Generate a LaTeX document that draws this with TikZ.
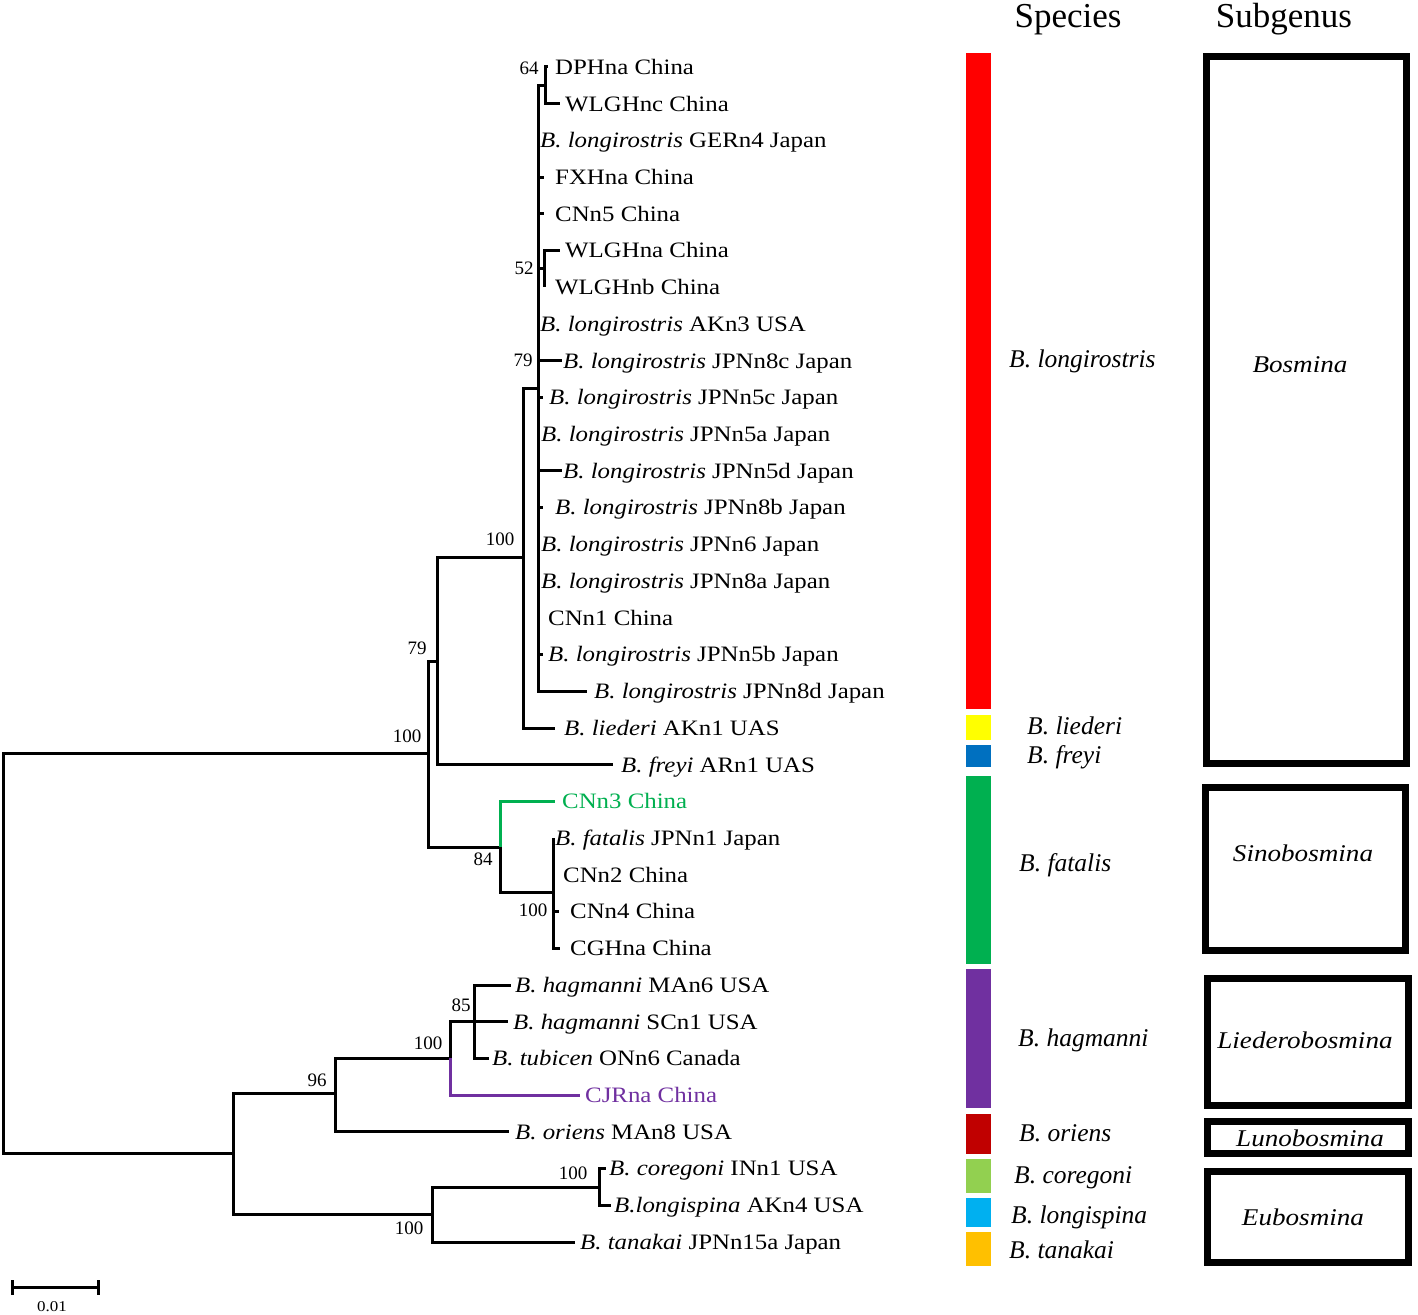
\documentclass[tikz,border=0pt]{standalone}
\usepackage{fontspec}
\setmainfont{Liberation Serif}
\newfontfamily\tf{Liberation Serif}[FakeStretch=1.13]
\definecolor{cRed}{HTML}{FF0000}
\definecolor{cYel}{HTML}{FFFF00}
\definecolor{cBlu}{HTML}{0070C0}
\definecolor{cGrn}{HTML}{00B050}
\definecolor{cPur}{HTML}{7030A0}
\definecolor{cDrd}{HTML}{C00000}
\definecolor{cLgr}{HTML}{92D050}
\definecolor{cCya}{HTML}{00B0F0}
\definecolor{cOra}{HTML}{FFC000}
\newcommand\mkleaf[5]{%
  \coordinate (#1e) at ({#3},{#2});
  \node[leaf] (#1) at ({#4},{#2+7.3}) {#5};}
\begin{document}
\begin{tikzpicture}[x=1pt,y=-1pt,
  br/.style={line width=3pt},
  leaf/.style={anchor=base west,inner sep=0pt,font=\tf\fontsize{22}{26}\selectfont},
  boot/.style={anchor=center,inner sep=0pt,font=\fontsize{19}{22}\selectfont},
  splab/.style={anchor=base west,inner sep=0pt,font=\fontsize{25.5}{30}\selectfont\itshape},
  sglab/.style={anchor=base,inner sep=0pt,font=\tf\fontsize{24}{28}\selectfont\itshape},
  sgbox/.style={line width=7.4pt},
  head/.style={anchor=base,inner sep=0pt,font=\fontsize{35}{40}\selectfont}]
\useasboundingbox (0,0) rectangle (1418,1314);
\fill[white] (0,0) rectangle (1418,1314);

% internal nodes
\coordinate (root) at (3,952);
\coordinate (nA) at (428,753);
\coordinate (nB) at (437,661);
\coordinate (nC) at (523,557);
\coordinate (nD) at (538,388);
\coordinate (n64) at (545,85);
\coordinate (n52) at (544,268);
\coordinate (nF) at (500,847);
\coordinate (nG) at (553,892);
\coordinate (nH) at (233,1153);
\coordinate (nI) at (335,1093);
\coordinate (nJ) at (450,1058);
\coordinate (nK) at (474,1021);
\coordinate (nL) at (432,1214);
\coordinate (nM) at (599,1187);

% leaves
\mkleaf{l1}{67}{548}{555}{DPHna China}
\mkleaf{l2}{103.7}{560}{565}{WLGHnc China}
\mkleaf{l3}{140.4}{538}{540}{\textit{B. longirostris} GERn4 Japan}
\mkleaf{l4}{177.2}{544}{555}{FXHna China}
\mkleaf{l5}{213.9}{544}{555}{CNn5 China}
\mkleaf{l6}{250.6}{560}{565}{WLGHna China}
\mkleaf{l7}{287.3}{544}{555}{WLGHnb China}
\mkleaf{l8}{324}{538}{540}{\textit{B. longirostris} AKn3 USA}
\mkleaf{l9}{360.8}{562}{563}{\textit{B. longirostris} JPNn8c Japan}
\mkleaf{l10}{397.5}{543}{549}{\textit{B. longirostris} JPNn5c Japan}
\mkleaf{l11}{434.2}{538}{541}{\textit{B. longirostris} JPNn5a Japan}
\mkleaf{l12}{470.9}{562}{563}{\textit{B. longirostris} JPNn5d Japan}
\mkleaf{l13}{507.6}{543}{555}{\textit{B. longirostris} JPNn8b Japan}
\mkleaf{l14}{544.4}{538}{541}{\textit{B. longirostris} JPNn6 Japan}
\mkleaf{l15}{581.1}{538}{541}{\textit{B. longirostris} JPNn8a Japan}
\mkleaf{l16}{617.8}{538}{548}{CNn1 China}
\mkleaf{l17}{654.5}{543}{548}{\textit{B. longirostris} JPNn5b Japan}
\mkleaf{l18}{691.2}{587}{594}{\textit{B. longirostris} JPNn8d Japan}
\mkleaf{l19}{728}{555}{564}{\textit{B. liederi} AKn1 UAS}
\mkleaf{l20}{764.7}{613}{621}{\textit{B. freyi} ARn1 UAS}
\mkleaf{l21}{801.4}{555}{562}{\textcolor{cGrn}{CNn3 China}}
\mkleaf{l22}{838.1}{553}{555}{\textit{B. fatalis} JPNn1 Japan}
\mkleaf{l23}{874.8}{553}{563}{CNn2 China}
\mkleaf{l24}{911.6}{559}{570}{CNn4 China}
\mkleaf{l25}{948.3}{560}{570}{CGHna China}
\mkleaf{l26}{985}{511}{515}{\textit{B. hagmanni} MAn6 USA}
\mkleaf{l27}{1021.7}{508}{513}{\textit{B. hagmanni} SCn1 USA}
\mkleaf{l28}{1058.4}{489}{492}{\textit{B. tubicen} ONn6 Canada}
\mkleaf{l29}{1095.2}{580}{585}{\textcolor{cPur}{CJRna China}}
\mkleaf{l30}{1131.9}{509}{515}{\textit{B. oriens} MAn8 USA}
\mkleaf{l31}{1168.6}{606}{609}{\textit{B. coregoni} INn1 USA}
\mkleaf{l32}{1205.3}{611}{614}{\textit{B.longispina} AKn4 USA}
\mkleaf{l33}{1242}{575}{580}{\textit{B. tanakai} JPNn15a Japan}

% branches
\draw[br] (root) |- (nA);
\draw[br] (root) |- (nH);
\draw[br] (nA) |- (nB);
\draw[br] (nA) |- (nF);
\draw[br] (nB) |- (nC);
\draw[br] (nB) |- (l20e);
\draw[br] (nC) |- (nD);
\draw[br] (nC) |- (l19e);
\draw[br] (nD) |- (n64);
\draw[br] (nD) |- (n52);
\foreach \k in {3,4,5,8,9,10,11,12,13,14,15,16,17,18} {\draw[br] (nD) |- (l\k e);}
\draw[br] (n64) |- (l1e);
\draw[br] (n64) |- (l2e);
\draw[br] (n52) |- (l6e);
\draw[br] (n52) |- (l7e);
\draw[br,cGrn] (nF) |- (l21e);
\draw[br] (nF) |- (nG);
\foreach \k in {22,23,24,25} {\draw[br] (nG) |- (l\k e);}
\draw[br] (nH) |- (nI);
\draw[br] (nH) |- (nL);
\draw[br] (nI) |- (nJ);
\draw[br] (nI) |- (l30e);
\draw[br] (nJ) |- (nK);
\draw[br,cPur] (nJ) |- (l29e);
\foreach \k in {26,27,28} {\draw[br] (nK) |- (l\k e);}
\draw[br] (nL) |- (nM);
\draw[br] (nL) |- (l33e);
\draw[br] (nM) |- (l31e);
\draw[br] (nM) |- (l32e);

% bootstrap values
\node[boot] (b64) at (529,68) {64};
\node[boot] (b52) at (524,268) {52};
\node[boot] (b79a) at (523,360) {79};
\node[boot] (b100a) at (500,539) {100};
\node[boot] (b79b) at (417,648) {79};
\node[boot] (b100b) at (407,736) {100};
\node[boot] (b84) at (483,859) {84};
\node[boot] (b100c) at (533,910) {100};
\node[boot] (b85) at (461,1005) {85};
\node[boot] (b100d) at (428,1043) {100};
\node[boot] (b96) at (317,1080) {96};
\node[boot] (b100e) at (573,1173) {100};
\node[boot] (b100f) at (409,1228) {100};

% scale bar
\coordinate (sbA) at (12,1287);
\coordinate (sbB) at (98,1287);
\draw[line width=3pt] (sbA) -- (sbB);
\draw[line width=3pt] ([yshift=7pt]sbA) -- ([yshift=-8pt]sbA);
\draw[line width=3pt] ([yshift=7pt]sbB) -- ([yshift=-8pt]sbB);
\node[anchor=center,inner sep=0pt,font=\tf\fontsize{15}{18}\selectfont] (sbl) at (52,1307) {0.01};

% headers
\node[head] (hsp) at (1068,28) {Species};
\node[head] (hsg) at (1284,28) {Subgenus};

% species bars
\fill[cRed] (966,53) rectangle (991,709);
\fill[cYel] (966,715) rectangle (991,740);
\fill[cBlu] (966,745) rectangle (991,767);
\fill[cGrn] (966,776) rectangle (991,964);
\fill[cPur] (966,969) rectangle (991,1108);
\fill[cDrd] (966,1114) rectangle (991,1154);
\fill[cLgr] (966,1159) rectangle (991,1193);
\fill[cCya] (966,1198) rectangle (991,1227);
\fill[cOra] (966,1232) rectangle (991,1266);

% species labels
\node[splab] (s1) at (1009,367.5) {B. longirostris};
\node[splab] (s2) at (1027,734.5) {B. liederi};
\node[splab] (s3) at (1027,763.5) {B. freyi};
\node[splab] (s4) at (1019,871.5) {B. fatalis};
\node[splab] (s5) at (1018,1046.5) {B. hagmanni};
\node[splab] (s6) at (1019,1141) {B. oriens};
\node[splab] (s7) at (1014,1183) {B. coregoni};
\node[splab] (s8) at (1011,1223) {B. longispina};
\node[splab] (s9) at (1009,1258) {B. tanakai};

% subgenus boxes
\draw[sgbox] (1206.7,56.7) rectangle (1406.3,763.3);
\draw[sgbox] (1205.7,787.7) rectangle (1405.3,950.3);
\draw[sgbox] (1207.7,978.7) rectangle (1408.3,1105.3);
\draw[sgbox] (1207.7,1121.7) rectangle (1408.3,1153.3);
\draw[sgbox] (1207.7,1171.7) rectangle (1408.3,1262.3);
\node[sglab] (g1) at (1300,372) {Bosmina};
\node[sglab] (g2) at (1303,861) {Sinobosmina};
\node[sglab] (g3) at (1305,1048) {Liederobosmina};
\node[sglab] (g4) at (1310,1146) {Lunobosmina};
\node[sglab] (g5) at (1303,1225) {Eubosmina};
\end{tikzpicture}
\end{document}
